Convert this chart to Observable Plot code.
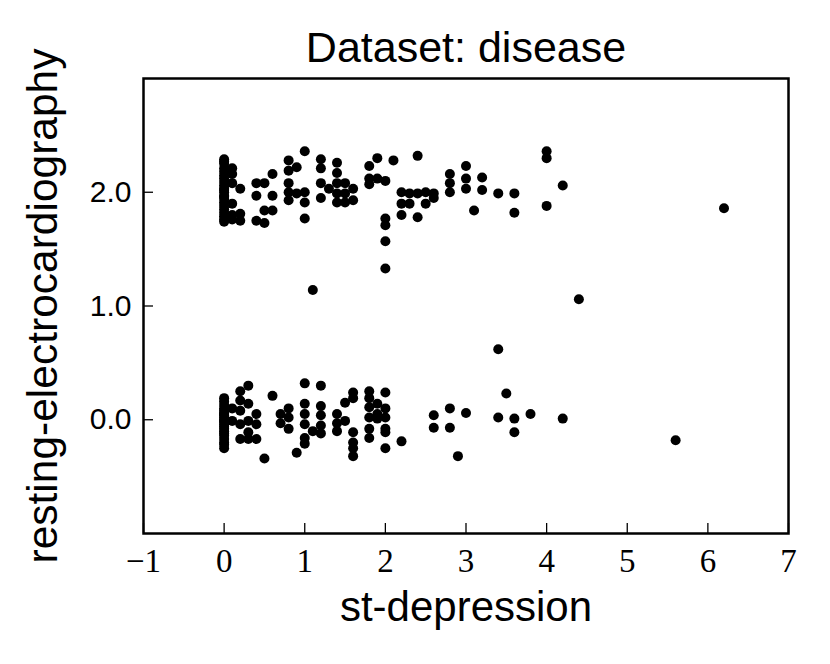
<!DOCTYPE html>
<html><head><meta charset="utf-8">
<script src="https://cdn.jsdelivr.net/npm/d3@7"></script>
<script src="https://cdn.jsdelivr.net/npm/@observablehq/plot@0.6"></script>
<style>html,body{margin:0;padding:0;background:#fff;} svg{display:block}</style>
</head><body><div id="chart"></div>
<script>
const title = "Dataset: disease";
const xLabel = "st-depression";
const yLabel = "resting-electrocardiography";
const xTicks = [-1, 0, 1, 2, 3, 4, 5, 6, 7];
const yTicks = [0, 1, 2];

// band around restecg = 2 (x level, jittered y values)
const topLevels = [0, 0.1, 0.2, 0.4, 0.5, 0.6, 0.8, 0.9, 1.0, 1.2, 1.3, 1.4, 1.5, 1.6, 1.8, 1.9, 2.0, 2.1, 2.2, 2.3, 2.4, 2.5, 2.6, 2.8, 3.0, 3.1, 3.2, 3.4, 3.6, 4.0, 4.2, 6.2];
const topValues = [
  [2.29, 2.25, 2.21, 2.18, 2.15, 2.12, 2.09, 2.06, 2.03, 2.00, 1.97, 1.94, 1.91, 1.88, 1.85, 1.82, 1.79, 1.76, 1.74, 2.27, 2.02, 1.96],
  [2.21, 2.16, 2.08, 1.90, 1.80, 1.76],
  [2.03, 1.81, 1.75],
  [2.08, 1.97, 1.75],
  [2.08, 1.84, 1.73],
  [2.16, 1.97, 1.84],
  [2.28, 2.19, 2.08, 2.00, 1.93],
  [2.22, 1.99],
  [2.36, 2.00, 1.91, 1.77],
  [2.29, 2.21, 2.08, 1.95],
  [2.03],
  [2.26, 2.17, 2.08, 1.99, 1.91],
  [2.08, 1.99, 1.91],
  [2.03, 1.93],
  [2.23, 2.12, 2.07],
  [2.30, 2.12],
  [2.10, 1.77, 1.71, 1.57, 1.33],
  [2.28],
  [2.00, 1.90, 1.80],
  [1.99, 1.90],
  [2.32, 1.99, 1.78],
  [2.00, 1.90],
  [1.99, 1.95],
  [2.16, 2.08, 2.00],
  [2.23, 2.12, 2.03],
  [1.84],
  [2.13, 2.02],
  [1.99],
  [1.99, 1.82],
  [2.36, 2.30, 1.88],
  [2.06],
  [1.86]
];

// band around restecg = 1
const midLevels = [1.1, 4.4, 3.4];
const midValues = [[1.14], [1.06], [0.62]];

// band around restecg = 0
const bottomLevels = [0, 0.1, 0.2, 0.3, 0.4, 0.5, 0.6, 0.7, 0.8, 0.9, 1.0, 1.1, 1.2, 1.4, 1.5, 1.6, 1.8, 1.9, 2.0, 2.2, 2.6, 2.8, 2.9, 3.0, 3.4, 3.5, 3.6, 3.8, 4.2, 5.6];
const bottomValues = [
  [0.19, 0.16, 0.13, 0.10, 0.08, 0.06, 0.04, 0.02, 0.00, -0.02, -0.04, -0.06, -0.08, -0.10, -0.12, -0.14, -0.17, -0.20, -0.22, -0.25, 0.05, -0.01],
  [0.10, -0.01],
  [0.25, 0.17, 0.08, -0.04, -0.17],
  [0.30, 0.14, -0.01, -0.11, -0.17],
  [0.05, -0.04, -0.17],
  [-0.34],
  [0.21],
  [0.05, -0.03],
  [0.10, 0.02, -0.08],
  [-0.29],
  [0.32, 0.14, 0.05, -0.04, -0.16, -0.21],
  [-0.10],
  [0.30, 0.12, 0.04, -0.05, -0.12],
  [0.05, -0.03, -0.10],
  [0.15, -0.01],
  [0.24, 0.19, -0.11, -0.20, -0.25, -0.32],
  [0.25, 0.19, 0.11, 0.02, -0.08, -0.16],
  [0.14, 0.05, 0.01],
  [0.24, 0.10, 0.02, -0.08, -0.11, -0.25],
  [-0.19],
  [0.04, -0.07],
  [0.10, -0.07],
  [-0.32],
  [0.06],
  [0.02],
  [0.23],
  [0.01, -0.11],
  [0.05],
  [0.01],
  [-0.18]
];

const points = [];
function addBand(levels, values) {
  levels.forEach((x, i) => values[i].forEach(y => points.push({stDepression: x, restingECG: y})));
}
addBand(topLevels, topValues);
addBand(midLevels, midValues);
addBand(bottomLevels, bottomValues);

const plot = Plot.plot({
  width: 830, height: 664,
  marginTop: 78, marginBottom: 131, marginLeft: 143, marginRight: 42,
  style: {fontFamily: "'Liberation Sans', Arial, sans-serif", background: "#fff", color: "#000"},
  x: {domain: [-1, 7]},
  y: {domain: [-1, 3]},
  marks: [
    Plot.dot(points, {x: "stDepression", y: "restingECG", r: 5, fill: "#000", stroke: null}),
    Plot.axisX(xTicks, {tickSize: -10, tickPadding: 25, fontSize: 33, fontFamily: "'Liberation Serif', serif",
      tickFormat: d => d < 0 ? "\u2212" + Math.abs(d) : String(d), label: null, strokeWidth: 1.3}),
    Plot.axisY(yTicks, {tickSize: -10, tickPadding: 22, fontSize: 30, tickFormat: d => d.toFixed(1), label: null, strokeWidth: 1.3}),
    Plot.frame({stroke: "#000", strokeWidth: 2.5}),
    Plot.text([title], {frameAnchor: "top", dy: -30, lineAnchor: "middle", fontSize: 43}),
    Plot.text([xLabel], {frameAnchor: "bottom", dy: 74, lineAnchor: "middle", fontSize: 42}),
    Plot.text([yLabel], {frameAnchor: "left", dx: -100, rotate: -90, textAnchor: "middle", lineAnchor: "middle", fontSize: 42.5})
  ]
});
document.getElementById("chart").appendChild(plot);
</script>
</body></html>
